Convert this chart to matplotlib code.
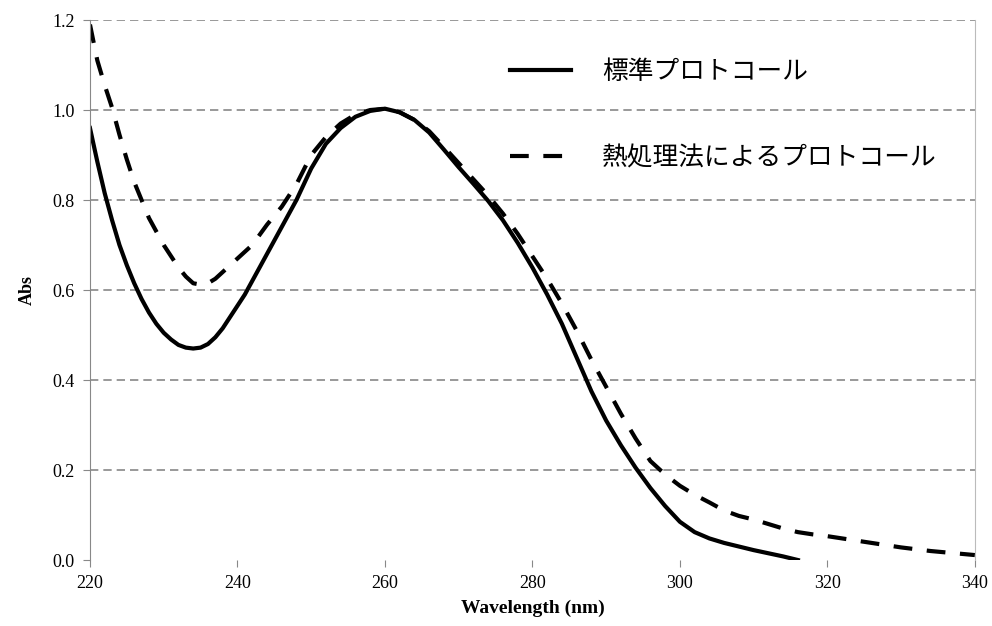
import matplotlib
matplotlib.use('Agg')
import matplotlib.pyplot as plt

plt.rcParams['font.family'] = ['Liberation Serif', 'Noto Sans CJK JP', 'DejaVu Sans']

# standard protocol
wl_std = [220, 221, 222, 223, 224, 225, 226, 227, 228, 229, 230, 231, 232, 233, 234,
          235, 236, 237, 238, 239, 240, 241, 242, 243, 244, 245, 246, 248, 250, 252,
          254, 256, 258, 260, 262, 264, 266, 268, 270, 272, 274, 276, 278, 280, 282,
          284, 286, 288, 290, 292, 294, 296, 298, 300, 302, 304, 306, 308, 310, 312,
          314, 316]
abs_std = [0.96, 0.885, 0.815, 0.755, 0.70, 0.655, 0.615, 0.58, 0.55, 0.525, 0.505, 0.49,
           0.478, 0.472, 0.470, 0.472, 0.48, 0.495, 0.515, 0.54, 0.565, 0.59, 0.62,
           0.65, 0.68, 0.71, 0.74, 0.80, 0.87, 0.925, 0.96, 0.985, 0.998, 1.003, 0.995,
           0.978, 0.95, 0.912, 0.873, 0.836, 0.798, 0.755, 0.705, 0.65, 0.59, 0.525, 0.45,
           0.375, 0.31, 0.255, 0.205, 0.16, 0.12, 0.085, 0.062, 0.048, 0.038, 0.03,
           0.022, 0.015, 0.008, 0.0]

# heat treatment protocol
wl_heat = [220, 221, 222, 223, 224, 225, 226, 227, 228, 229, 230, 231, 232, 233, 234,
           235, 236, 237, 238, 239, 240, 241, 242, 244, 246, 248, 250, 252, 254, 256,
           258, 260, 262, 264, 266, 268, 270, 272, 274, 276, 278, 280, 282, 284, 286,
           288, 290, 292, 294, 296, 298, 300, 302, 304, 306, 308, 310, 312, 314, 316,
           318, 320, 322, 324, 326, 328, 330, 332, 334, 336, 338, 340]
abs_heat = [1.19, 1.11, 1.055, 1.005, 0.945, 0.89, 0.84, 0.80, 0.76, 0.73, 0.70, 0.675,
            0.65, 0.63, 0.615, 0.612, 0.615, 0.625, 0.64, 0.655, 0.67, 0.685, 0.70,
            0.745, 0.785, 0.835, 0.90, 0.94, 0.97, 0.99, 1.0, 1.003, 0.995, 0.978,
            0.953, 0.918, 0.882, 0.846, 0.81, 0.77, 0.725, 0.675, 0.625, 0.57, 0.51,
            0.445, 0.385, 0.325, 0.27, 0.22, 0.19, 0.165, 0.145, 0.128, 0.11, 0.098,
            0.09, 0.08, 0.07, 0.062, 0.057, 0.053, 0.048, 0.043, 0.038, 0.033, 0.028,
            0.024, 0.02, 0.017, 0.014, 0.011]

labels = ['標準プロトコール', '熱処理法によるプロトコール']
xticks = [220, 240, 260, 280, 300, 320, 340]
yticks = [0.0, 0.2, 0.4, 0.6, 0.8, 1.0, 1.2]

fig = plt.figure(figsize=(9.92, 6.26), dpi=100)
ax = fig.add_axes([0.0907, 0.1054, 0.892, 0.8626])

ax.plot(wl_std, abs_std, color='black', lw=3, label=labels[0])
ax.plot(wl_heat, abs_heat, color='black', lw=3, dashes=(4.5, 3.5), label=labels[1])

ax.set_xlim(220, 340)
ax.set_ylim(0, 1.2)
ax.set_xticks(xticks)
ax.set_yticks(yticks)
ax.set_yticklabels(['%.1f' % v for v in yticks])
ax.tick_params(direction='out', length=5, color='#888888', labelsize=13, pad=6)

ax.grid(axis='y', color='#888888', linestyle=(0, (5, 3)), lw=1.2)
ax.yaxis.get_gridlines()[0].set_visible(False)
ax.set_axisbelow(True)

ax.spines['top'].set_visible(False)
ax.spines['bottom'].set_visible(False)
ax.spines['left'].set_color('#888888')
ax.spines['right'].set_color('#bbbbbb')

ax.set_xlabel('Wavelength (nm)', fontsize=14, fontweight='bold', labelpad=5)
ax.set_ylabel('Abs', fontsize=13, fontweight='bold', labelpad=12)

ax.legend(frameon=False, loc='upper left', bbox_to_anchor=(0.4483, 0.969),
          fontsize=18.5, handlelength=2.4, handletextpad=1.2, labelspacing=2.43)

fig.savefig('out.png', dpi=100)
